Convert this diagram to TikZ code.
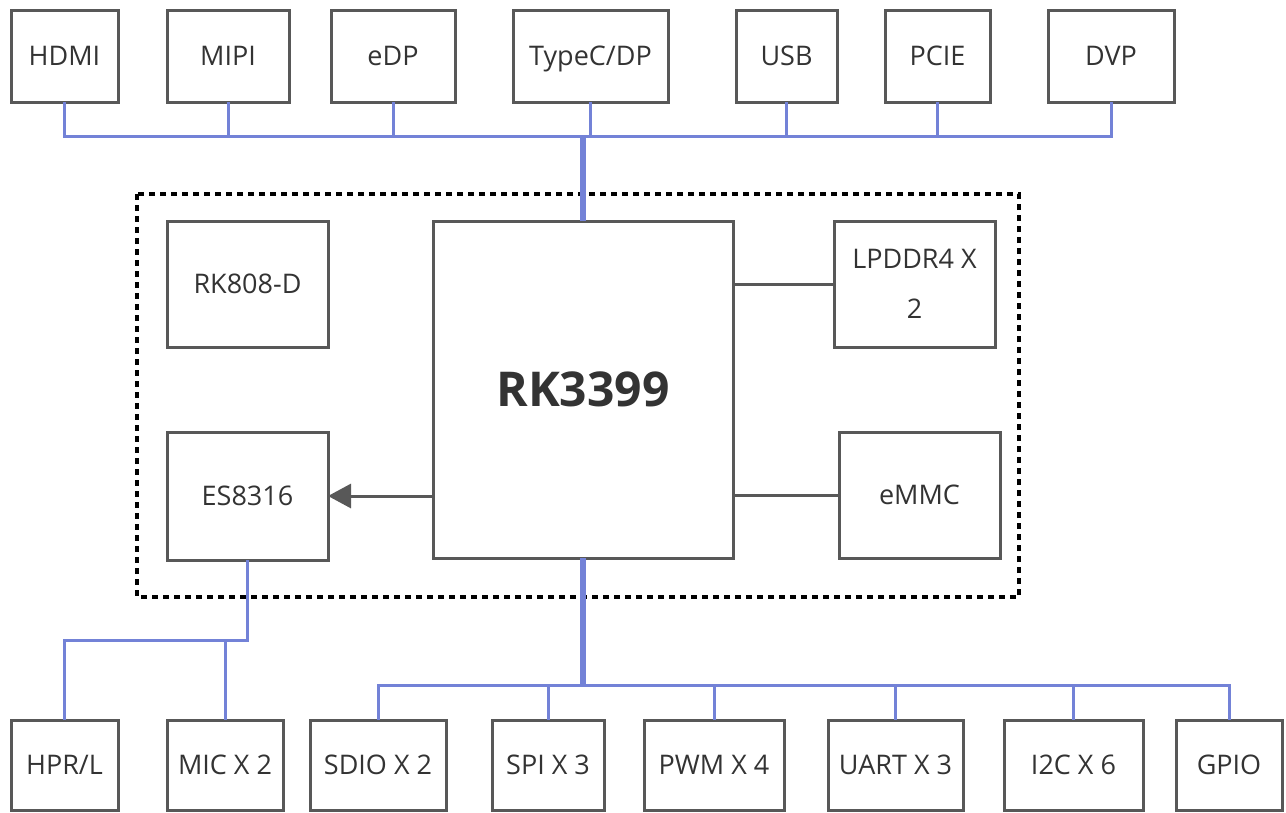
\documentclass[tikz,border=0pt]{standalone}
\usepackage{fontspec}
\setmainfont{Open Sans}
\usetikzlibrary{arrows.meta}
\definecolor{busblue}{RGB}{115,130,215}
\definecolor{boxgray}{RGB}{88,88,88}
\definecolor{txtgray}{RGB}{51,51,51}
\tikzset{
  box/.style={draw=boxgray, line width=3pt, inner sep=0pt, outer sep=0pt,
    text=txtgray, font=\fontsize{27}{30}\selectfont, align=center},
  bus/.style={draw=busblue, line width=3pt},
  thickbus/.style={draw=busblue, line width=6pt},
  conn/.style={draw=boxgray, line width=3pt},
  dotbox/.style={draw=black, line width=4pt, dash pattern=on 6pt off 5pt}
}
\begin{document}
\begin{tikzpicture}[x=1pt,y=-1pt]
\useasboundingbox (0,0) rectangle (1286,812);
% top row
\node[box, minimum width=107pt, minimum height=92pt] (hdmi) at (64.5,56) {HDMI};
\node[box, minimum width=122pt, minimum height=92pt] (mipi) at (228,56) {MIPI};
\node[box, minimum width=124pt, minimum height=92pt] (edp) at (393,56) {eDP};
\node[box, minimum width=155pt, minimum height=92pt, text depth=0pt] (typec) at (590.5,56) {TypeC/DP};
\node[box, minimum width=101pt, minimum height=92pt] (usb) at (786.5,56) {USB};
\node[box, minimum width=105pt, minimum height=92pt] (pcie) at (937.5,56) {PCIE};
\node[box, minimum width=126pt, minimum height=92pt] (dvp) at (1111,56) {DVP};
% dotted frame
\draw[dotbox] (137,194) rectangle (1019,597);
% middle
\node[box, minimum width=161pt, minimum height=126pt] (rk808) at (247.5,284) {RK808-D};
\node[box, minimum width=161pt, minimum height=128pt] (es) at (247.5,496) {ES8316};
\node[box, minimum width=300pt, minimum height=337pt, font=\fontsize{48}{52}\bfseries] (rk) at (583,389.5) {RK3399};
\node[box, minimum width=161pt, minimum height=126pt, font=\fontsize{27}{50}\selectfont] (lp) at (914.5,284) {LPDDR4 X\\2};
\node[box, minimum width=161pt, minimum height=126pt] (em) at (919.5,495) {eMMC};
% bottom row
\node[box, minimum width=107pt, minimum height=90pt] (hpr) at (64.5,765) {HPR/L};
\node[box, minimum width=116pt, minimum height=90pt] (mic) at (225,765) {MIC X 2};
\node[box, minimum width=136pt, minimum height=90pt] (sdio) at (378,765) {SDIO X 2};
\node[box, minimum width=112pt, minimum height=90pt] (spi) at (548,765) {SPI X 3};
\node[box, minimum width=140pt, minimum height=90pt] (pwm) at (714,765) {PWM X 4};
\node[box, minimum width=135pt, minimum height=90pt] (uart) at (895.5,765) {UART X 3};
\node[box, minimum width=139pt, minimum height=90pt] (i2c) at (1073.5,765) {I2C X 6};
\node[box, minimum width=106pt, minimum height=90pt] (gpio) at (1229,765) {GPIO};
% top bus
\coordinate (tb) at (0,136);
\draw[thickbus] (rk.north) -- (rk.north |- tb);
\draw[bus] (hdmi.south) |- (dvp.south |- tb) -- (dvp.south);
\foreach \n in {mipi,edp,typec,usb,pcie}
  \draw[bus] (\n.south) -- (\n.south |- tb);
% bottom bus
\coordinate (bb) at (0,685);
\draw[thickbus] (rk.south) -- (rk.south |- bb);
\draw[bus] (sdio.north) |- (gpio.north |- bb) -- (gpio.north);
\foreach \n in {spi,pwm,uart,i2c}
  \draw[bus] (\n.north) -- (\n.north |- bb);
% audio bus
\coordinate (ab) at (0,640);
\draw[bus] (es.south) |- (hpr.north |- ab) -- (hpr.north);
\draw[bus] (mic.north) -- (mic.north |- ab);
% internal links
\draw[conn, -{Triangle[length=23pt,width=24pt]}] (rk.west |- es.east) -- (es.east);
\draw[conn] (rk.east |- lp.west) -- (lp.west);
\draw[conn] (rk.east |- em.west) -- (em.west);
\end{tikzpicture}
\end{document}
